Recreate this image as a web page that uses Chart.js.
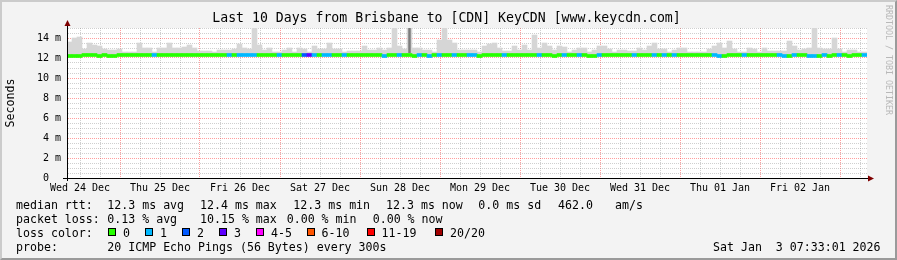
<!DOCTYPE html>
<html><head><meta charset="utf-8">
<script src="https://cdn.jsdelivr.net/npm/chart.js@4.4.1/dist/chart.umd.min.js"></script>
<style>
html,body{margin:0;padding:0;background:#f3f3f3;}
#wrap{position:relative;width:897px;height:260px;background:#f3f3f3;overflow:hidden;font-family:'DejaVu Sans Mono',monospace;}
#c{position:absolute;left:0;top:0;}
#frame{position:absolute;left:0;top:0;width:897px;height:260px;box-sizing:border-box;border-style:solid;border-width:2px;border-color:#cbcbcb #9a9a9a #9a9a9a #cbcbcb;pointer-events:none;}
.t{position:absolute;white-space:pre;color:#000;}
#title{font-size:13.2px;line-height:16px;left:0;width:893px;text-align:center;top:10.4px;}
.lg{font-size:11.6px;line-height:14px;}
.sq{position:absolute;width:6px;height:6px;border:1px solid #000;top:228px;}
#wm{position:absolute;writing-mode:vertical-rl;font-size:8.3px;line-height:10px;color:#b8b8b8;left:884px;top:5px;white-space:pre;}
</style>
</head><body>
<div id="wrap">
<canvas id="c" width="897" height="260"></canvas>
<div id="title" class="t">Last 10 Days from Brisbane to [CDN] KeyCDN [www.keycdn.com]</div>
<div id="wm">RRDTOOL / TOBI OETIKER</div>

<div class="t lg" style="left:16px;top:198px">median rtt:</div>
<div class="t lg" style="left:107.3px;top:198px">12.3 ms avg</div>
<div class="t lg" style="left:200px;top:198px">12.4 ms max</div>
<div class="t lg" style="left:293.3px;top:198px">12.3 ms min</div>
<div class="t lg" style="left:386px;top:198px">12.3 ms now</div>
<div class="t lg" style="left:478.3px;top:198px">0.0 ms sd</div>
<div class="t lg" style="left:558px;top:198px">462.0</div>
<div class="t lg" style="left:615px;top:198px">am/s</div>

<div class="t lg" style="left:16px;top:212px">packet loss:</div>
<div class="t lg" style="left:107.3px;top:212px">0.13 % avg</div>
<div class="t lg" style="left:200px;top:212px">10.15 % max</div>
<div class="t lg" style="left:286.7px;top:212px">0.00 % min</div>
<div class="t lg" style="left:372.7px;top:212px">0.00 % now</div>

<div class="t lg" style="left:16px;top:226px">loss color:</div>
<div id="losslegend"></div>

<div class="t lg" style="left:16px;top:240px">probe:</div>
<div class="t lg" style="left:107.3px;top:240px">20 ICMP Echo Pings (56 Bytes) every 300s</div>
<div class="t lg" style="left:713px;top:240px">Sat Jan  3 07:33:01 2026</div>

<div id="frame"></div>
</div>
<script>
// ---------------- data ----------------
// 160 buckets of 1.5 h each, covering the 10-day window
const smokeMax = [
 13.6,14.0,14.1,12.9,13.5,13.3,13.2,12.9,12.8,12.8,
 12.9,12.6,12.6,12.6,13.5,13.0,13.0,12.6,13.0,13.0,
 13.5,13.0,13.0,13.1,13.3,13.0,12.7,12.7,12.7,12.6,
 12.8,12.8,12.8,12.9,13.4,13.0,12.9,15.0,13.3,12.8,
 13.0,12.6,12.6,12.8,13.0,12.6,13.0,12.9,12.6,13.2,
 12.9,12.9,13.5,12.9,12.9,12.6,12.7,12.7,12.7,13.2,
 12.8,12.8,13.0,12.8,13.0,15.0,13.2,12.9,15.0,13.0,
 13.0,12.8,12.8,12.6,13.8,15.0,13.8,13.5,12.8,12.8,
 12.8,12.8,12.6,13.2,13.4,13.5,13.0,12.7,12.7,13.2,
 12.8,13.3,12.8,14.3,13.0,13.5,13.2,12.8,13.2,13.1,
 12.6,12.8,13.0,13.0,12.6,12.8,13.2,13.2,12.9,12.6,
 12.8,12.8,12.7,12.7,13.0,12.8,13.2,13.5,12.9,12.9,
 12.6,12.8,13.0,13.0,12.6,12.6,12.6,12.6,12.9,13.2,
 13.5,13.0,13.7,12.9,12.6,12.6,13.0,12.9,12.6,13.0,
 12.7,12.7,12.7,12.7,13.7,13.2,12.8,12.9,13.0,15.0,
 13.0,12.9,12.9,14.0,12.9,12.6,12.8,12.8,12.6,12.6];

const medianRtt = [
 12.2,12.2,12.2,12.3,12.3,12.3,12.2,12.3,12.2,12.2,
 12.3,12.3,12.3,12.3,12.3,12.3,12.3,12.3,12.3,12.3,
 12.3,12.3,12.3,12.3,12.3,12.3,12.3,12.3,12.3,12.3,
 12.3,12.3,12.3,12.3,12.3,12.3,12.3,12.3,12.3,12.3,
 12.3,12.3,12.3,12.3,12.3,12.3,12.3,12.3,12.3,12.3,
 12.3,12.3,12.3,12.3,12.3,12.3,12.3,12.3,12.3,12.3,
 12.3,12.3,12.3,12.2,12.3,12.3,12.3,12.3,12.3,12.2,
 12.3,12.3,12.2,12.3,12.3,12.3,12.3,12.3,12.3,12.3,
 12.3,12.3,12.2,12.3,12.3,12.3,12.3,12.3,12.3,12.3,
 12.3,12.3,12.3,12.3,12.3,12.3,12.3,12.2,12.3,12.3,
 12.3,12.3,12.3,12.3,12.2,12.2,12.3,12.3,12.3,12.3,
 12.3,12.3,12.3,12.3,12.3,12.3,12.3,12.3,12.3,12.3,
 12.3,12.3,12.3,12.3,12.3,12.3,12.3,12.3,12.3,12.3,
 12.2,12.2,12.3,12.3,12.3,12.3,12.3,12.3,12.3,12.3,
 12.3,12.3,12.3,12.2,12.2,12.3,12.3,12.3,12.2,12.2,
 12.2,12.3,12.2,12.3,12.3,12.3,12.2,12.3,12.3,12.3];

const lossCount = [
 0,0,0,0,0,0,0,0,0,0,
 0,0,0,0,0,0,0,1,0,0,
 0,0,0,0,0,0,0,0,0,0,
 0,0,1,0,1,1,1,1,0,0,
 0,0,1,0,0,0,0,2,3,1,
 0,1,1,0,0,1,0,0,0,0,
 0,0,0,1,0,0,1,0,0,0,
 1,0,1,0,1,0,0,1,0,0,
 1,1,0,0,0,0,0,1,0,0,
 0,0,0,0,1,0,0,0,0,1,
 0,0,1,0,0,0,1,0,0,0,
 0,0,0,1,0,0,0,1,0,1,
 0,1,0,0,0,0,0,0,0,1,
 1,0,0,0,0,1,0,0,0,0,
 0,0,1,1,0,1,0,0,1,1,
 0,1,0,0,1,0,0,0,0,1];

const darkSmokeBucket = [68];
const darkSmokeRange = [[12.5, 15.0]];

const dayLabels = ['Wed 24 Dec','Thu 25 Dec','Fri 26 Dec','Sat 27 Dec','Sun 28 Dec',
                   'Mon 29 Dec','Tue 30 Dec','Wed 31 Dec','Thu 01 Jan','Fri 02 Jan'];
const yTickLabels = ['0  ','2 m','4 m','6 m','8 m','10 m','12 m','14 m'];
const lossLegend = [['0','#26ff00'],['1','#00b8ff'],['2','#0059ff'],['3','#5e00ff'],
                    ['4-5','#ff00ff'],['6-10','#ff5500'],['11-19','#ff0000'],['20/20','#a10000']];

// ---------------- helpers / styling ----------------
const axisStartHour = 8.1;      // hours after Wed 24 Dec 00:00
const axisSpanHours = 240;
const lineHalf = 0.15;          // half thickness of median line in ms

function lossColor(n){
  if (n <= 0) return '#26ff00';
  if (n <= 1) return '#00b8ff';
  if (n <= 2) return '#0059ff';
  if (n <= 3) return '#5e00ff';
  if (n <= 5) return '#ff00ff';
  if (n <= 10) return '#ff5500';
  if (n <= 19) return '#ff0000';
  return '#a10000';
}

// loss legend squares
const sqX = [108, 145, 182, 219, 256, 306.5, 366.5, 435];
const ll = document.getElementById('losslegend');
lossLegend.forEach((e, i) => {
  const s = document.createElement('div'); s.className = 'sq';
  s.style.left = sqX[i] + 'px'; s.style.background = e[1]; ll.appendChild(s);
  const t = document.createElement('div'); t.className = 't lg';
  t.style.left = (sqX[i] + 15) + 'px'; t.style.top = '226px'; t.textContent = e[0]; ll.appendChild(t);
});

const buckets = smokeMax.map((_, i) => i);
const smokeData = smokeMax.map((v, i) => [medianRtt[i], v]);
const darkData = buckets.map(() => null);
darkSmokeBucket.forEach((b, k) => { darkData[b] = darkSmokeRange[k]; });
const medianData = medianRtt.map(m => [m - lineHalf, m + lineHalf]);

const gridHours = [];
for (let h = Math.ceil(axisStartHour / 6) * 6; h <= axisStartHour + axisSpanHours; h += 6) gridHours.push(h);
const yTicks = [];
for (let v = 0; v <= 15; v += 0.5) yTicks.push(v);

const MAJOR = 'rgba(255,0,0,0.38)';
const MINOR = 'rgba(130,130,130,0.38)';
const MONO = 'DejaVu Sans Mono';

const bgPlugin = {
  id: 'bg',
  beforeDraw(chart){
    const {ctx, chartArea: a} = chart;
    ctx.save(); ctx.fillStyle = '#ffffff';
    ctx.fillRect(a.left, a.top, a.right - a.left, a.bottom - a.top);
    ctx.restore();
  }
};
const arrowPlugin = {
  id: 'arrows',
  afterDraw(chart){
    const {ctx, chartArea: a} = chart;
    ctx.save();
    ctx.strokeStyle = '#000'; ctx.lineWidth = 1;
    ctx.beginPath();
    ctx.moveTo(a.left - 4, a.bottom + 0.5); ctx.lineTo(a.right + 2, a.bottom + 0.5);
    ctx.moveTo(a.left + 0.5, a.bottom + 3); ctx.lineTo(a.left + 0.5, a.top - 3);
    ctx.stroke();
    ctx.fillStyle = '#7f0000';
    ctx.beginPath();
    ctx.moveTo(a.left - 2.5, a.top - 2); ctx.lineTo(a.left + 3.5, a.top - 2); ctx.lineTo(a.left + 0.5, a.top - 8);
    ctx.closePath(); ctx.fill();
    ctx.beginPath();
    ctx.moveTo(a.right + 1, a.bottom - 2.5); ctx.lineTo(a.right + 1, a.bottom + 3.5); ctx.lineTo(a.right + 7, a.bottom + 0.5);
    ctx.closePath(); ctx.fill();
    ctx.restore();
  }
};

const common = {grouped: false, barPercentage: 1, categoryPercentage: 1, borderWidth: 0};

new Chart(document.getElementById('c'), {
  type: 'bar',
  data: {
    labels: buckets,
    datasets: [
      Object.assign({label: 'median rtt', data: medianData, backgroundColor: lossCount.map(lossColor), order: 0}, common),
      Object.assign({label: 'smoke dark', data: darkData, backgroundColor: '#7c7c7c', order: 1}, common, {barPercentage: 0.5}),
      Object.assign({label: 'smoke', data: smokeData, backgroundColor: '#d6d6d6', order: 2}, common)
    ]
  },
  options: {
    responsive: false,
    animation: false,
    layout: {padding: {left: 0, top: 28, right: 30, bottom: 60}},
    plugins: {legend: {display: false}, tooltip: {enabled: false}, title: {display: false}},
    scales: {
      x: {type: 'category', display: false, offset: true},
      xt: {
        type: 'linear', position: 'bottom', offset: false,
        min: axisStartHour, max: axisStartHour + axisSpanHours,
        afterBuildTicks: s => { s.ticks = gridHours.map(v => ({value: v})); },
        afterFit: s => { s.height = 22; },
        ticks: {
          autoSkip: false, maxRotation: 0, padding: 4, color: '#000',
          font: {family: MONO, size: 10},
          callback: v => (v % 24 === 12 ? dayLabels[(v - 12) / 24] : '')
        },
        grid: {offset: false, color: c => (c.tick && c.tick.value % 24 === 0 ? MAJOR : MINOR), lineWidth: 1, drawTicks: false},
        border: {display: true, color: '#000', width: 1, dash: [1, 1]}
      },
      y: {
        min: 0, max: 15,
        afterBuildTicks: s => { s.ticks = yTicks.map(v => ({value: v})); },
        afterFit: s => { s.width = 67; },
        ticks: {
          autoSkip: false, padding: 6, color: '#000',
          font: {family: MONO, size: 10},
          callback: v => (v % 2 === 0 ? yTickLabels[v / 2] : '')
        },
        grid: {color: c => (c.tick && c.tick.value % 2 === 0 ? MAJOR : MINOR), lineWidth: 1, drawTicks: false},
        border: {display: true, color: '#000', width: 1, dash: [1, 1]},
        title: {display: true, text: 'Seconds', color: '#000', font: {family: MONO, size: 11.6}, padding: {top: 4, bottom: 0}}
      }
    }
  },
  plugins: [bgPlugin, arrowPlugin]
});
</script>
</body></html>
